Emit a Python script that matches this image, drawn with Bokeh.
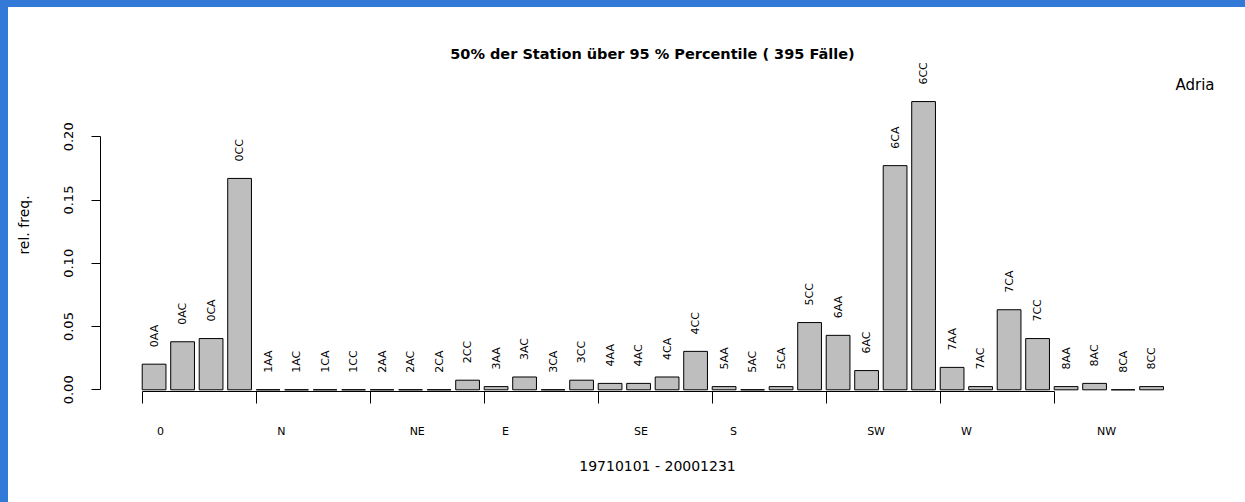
from math import pi
from bokeh.plotting import figure
from bokeh.layouts import column, row
from bokeh.core.properties import value
from bokeh.models import (FixedTicker, LinearAxis, Range1d, Label, LabelSet, Spacer,
                          ColumnDataSource, PrintfTickFormatter, CustomLabelingPolicy)
from bokeh.embed import file_html
from bokeh.resources import INLINE

# ---- data ----
categories = ["0AA", "0AC", "0CA", "0CC", "1AA", "1AC", "1CA", "1CC",
              "2AA", "2AC", "2CA", "2CC", "3AA", "3AC", "3CA", "3CC",
              "4AA", "4AC", "4CA", "4CC", "5AA", "5AC", "5CA", "5CC",
              "6AA", "6AC", "6CA", "6CC", "7AA", "7AC", "7CA", "7CC",
              "8AA", "8AC", "8CA", "8CC"]
counts = [8, 15, 16, 66, 0, 0, 0, 0,
          0, 0, 0, 3, 1, 4, 0, 3,
          2, 2, 4, 12, 1, 0, 1, 21,
          17, 6, 70, 90, 7, 1, 25, 16,
          1, 2, 0, 1]
n_cases = 395
rel_freq = [c / n_cases for c in counts]
group_names = ["0", "N", "NE", "E", "SE", "S", "SW", "W", "NW"]
group_label_at = [0.97, 6.06, 11.78, 15.5, 21.2, 25.1, 31.1, 34.9, 40.8]
y_ticks = [0.0, 0.05, 0.10, 0.15, 0.20]
title_text = "50% der Station \u00fcber  95 % Percentile ( 395  F\u00e4lle)"
x_title = "19710101 - 20001231"
y_title = "rel. freq."
region = "Adria"

# R barplot geometry: width 1, space 0.2
bar_x = [0.7 + 1.2 * i for i in range(len(categories))]
group_starts = [0.2 + 4.8 * k for k in range(len(group_names))]

FONT = "DejaVu Sans"
BLUE = "#3279d8"

p = figure(width=1237, height=495,
           x_range=Range1d(-1.556, 45.349), y_range=Range1d(-0.001344, 0.2619),
           output_backend="svg", toolbar_location=None,
           x_axis_location=None, y_axis_location=None,
           min_border_left=92, min_border_right=31,
           min_border_top=51, min_border_bottom=111,
           title=title_text)
p.outline_line_color = None
p.background_fill_color = "white"
p.border_fill_color = "white"
p.xgrid.visible = False
p.ygrid.visible = False

p.title.text_font = FONT
p.title.text_font_size = "14.5px"
p.title.text_font_style = "bold"
p.title.text_color = "black"
p.title.align = "center"
p.title.standoff = -7

# y axis
yax = LinearAxis(ticker=FixedTicker(ticks=y_ticks), bounds=(0, 0.2),
                 formatter=PrintfTickFormatter(format="%.2f"),
                 axis_label=y_title,
                 major_tick_out=9, major_tick_in=0, minor_tick_out=0, minor_tick_in=0,
                 major_label_orientation="vertical",
                 major_label_standoff=18, axis_label_standoff=30,
                 major_label_text_font=FONT, major_label_text_font_size="13px",
                 major_label_text_color="black",
                 axis_label_text_font=FONT, axis_label_text_font_size="14px",
                 axis_label_text_font_style="normal", axis_label_text_color="black",
                 axis_line_color="black", major_tick_line_color="black")
p.add_layout(yax, "left")

# x axis with group boundary ticks (no labels)
hide_all = CustomLabelingPolicy(code="""
for (const i of indices) { indices.unset(i) }
return indices
""")
xa = LinearAxis(ticker=FixedTicker(ticks=group_starts), bounds=(0.2, 38.6),
                major_tick_out=12, major_tick_in=0, minor_tick_out=0, minor_tick_in=0,
                major_label_text_font_size="1px", major_label_standoff=0,
                major_label_policy=hide_all,
                axis_line_color="black", major_tick_line_color="black")
p.add_layout(xa, "below")

# group names
xb = LinearAxis(ticker=FixedTicker(ticks=group_label_at),
                major_label_overrides={float(v): n for v, n in zip(group_label_at, group_names)},
                axis_line_color=None, major_tick_line_color=None,
                major_tick_out=0, major_tick_in=0, minor_tick_out=0, minor_tick_in=0,
                major_label_standoff=17,
                major_label_text_font=FONT, major_label_text_font_size="11px",
                major_label_text_color="black",
                axis_label=x_title, axis_label_standoff=17,
                axis_label_text_font=FONT, axis_label_text_font_size="14px",
                axis_label_text_font_style="normal", axis_label_text_color="black")
p.add_layout(xb, "below")

src = ColumnDataSource(dict(x=bar_x, top=rel_freq, name=categories))
p.vbar(x="x", width=1.0, top="top", bottom=0, source=src,
       fill_color="#bebebe", line_color="black", line_width=1)

labels = LabelSet(x="x", y="top", text="name", source=src, angle=pi / 2,
                  text_align="left", text_baseline="middle", y_offset=17,
                  text_font=value(FONT), text_font_size=value("11px"),
                  text_color="black")
p.add_layout(labels)

p.add_layout(Label(x=45.349, y=0.2413, text=region, text_align="right",
                   text_baseline="middle", text_font=FONT, text_font_size="15px",
                   text_color="black"))

top_strip = Spacer(width=1245, height=7, styles={"background-color": BLUE})
left_strip = Spacer(width=8, height=495, styles={"background-color": BLUE})
page = column(top_strip, row(left_strip, p, spacing=0), spacing=0)

open("out.html", "w").write(file_html(page, INLINE))
